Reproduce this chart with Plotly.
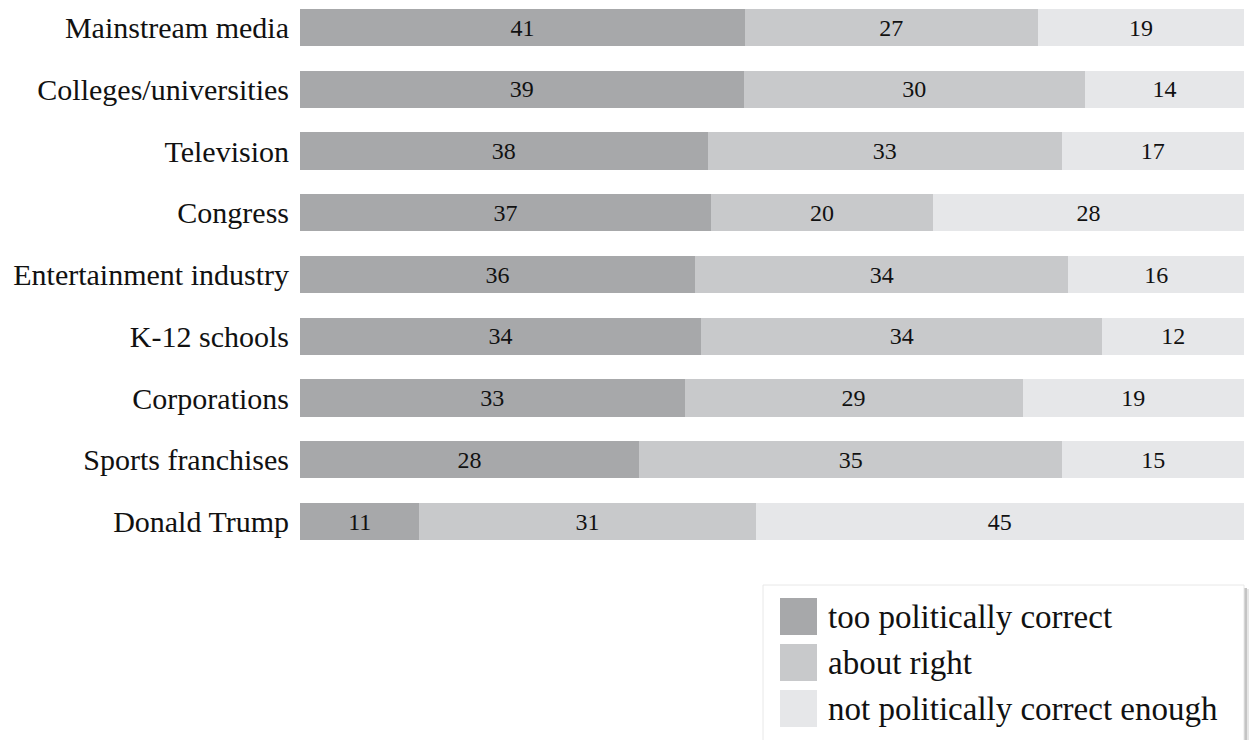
import plotly.graph_objects as go

# Survey results: share saying each institution is ...
categories = [
    "Mainstream media",
    "Colleges/universities",
    "Television",
    "Congress",
    "Entertainment industry",
    "K-12 schools",
    "Corporations",
    "Sports franchises",
    "Donald Trump",
]
too_pc = [41, 39, 38, 37, 36, 34, 33, 28, 11]
about_right = [27, 30, 33, 20, 34, 34, 29, 35, 31]
not_enough = [19, 14, 17, 28, 16, 12, 19, 15, 45]

series_names = ["too politically correct", "about right", "not politically correct enough"]
series_values = [too_pc, about_right, not_enough]
series_colors = ["#a7a8aa", "#c8c9cb", "#e6e7e9"]

FONT = "Liberation Serif, DejaVu Serif, serif"
W, H = 1249, 740
L, R = 300, 5
ROW = 61.75          # pixel spacing between rows
FIRST = 27.5         # pixel centre of the first row

rows = list(range(len(categories)))

fig = go.Figure()
for name, vals, color in zip(series_names, series_values, series_colors):
    fig.add_trace(go.Bar(
        y=rows, x=vals, orientation="h", name=name,
        marker=dict(color=color, line=dict(width=0)),
        width=0.6,
        text=[str(v) for v in vals],
        textposition="inside", insidetextanchor="middle", textangle=0,
        textfont=dict(family=FONT, size=24, color="#111111"),
        hoverinfo="name+text", showlegend=False,
    ))

y_top = -FIRST / ROW
y_bot = y_top + H / ROW

fig.update_layout(
    width=W, height=H,
    margin=dict(l=L, r=R, t=0, b=0),
    paper_bgcolor="white", plot_bgcolor="white",
    barmode="stack", barnorm="percent",
    font=dict(family=FONT, color="#111111"),
    xaxis=dict(range=[0, 100], visible=False, fixedrange=True),
    yaxis=dict(
        range=[y_bot, y_top], tickvals=rows, ticktext=categories,
        showgrid=False, zeroline=False, showline=False, ticks="",
        ticklabelstandoff=10, tickfont=dict(family=FONT, size=30, color="#111111"),
        fixedrange=True,
    ),
)

# helpers converting pixel positions to paper coordinates
pw = W - L - R
def px(x):
    return (x - L) / pw
def py(y):
    return 1 - y / H

# legend panel with a soft drop shadow
box = (763, 585, 1244, 745)
shapes = [
    dict(type="rect", xref="paper", yref="paper",
         x0=px(box[2]), x1=px(box[2] + 3), y0=py(box[1] + 3), y1=py(box[3]),
         fillcolor="#c4c4c4", line=dict(width=0), layer="above"),
    dict(type="rect", xref="paper", yref="paper",
         x0=px(box[2] + 3), x1=px(box[2] + 5), y0=py(box[1] + 4), y1=py(box[3]),
         fillcolor="#e6e6e6", line=dict(width=0), layer="above"),
    dict(type="rect", xref="paper", yref="paper",
         x0=px(box[0]), x1=px(box[2]), y0=py(box[1]), y1=py(box[3]),
         fillcolor="white", line=dict(color="#e8e8e8", width=1), layer="above"),
]
annotations = []
sw_x0, sw_size, sw_y0, sw_step = 780, 37, 598, 46
for i, (name, color) in enumerate(zip(series_names, series_colors)):
    top = sw_y0 + i * sw_step
    shapes.append(dict(type="rect", xref="paper", yref="paper",
                       x0=px(sw_x0), x1=px(sw_x0 + sw_size),
                       y0=py(top + sw_size), y1=py(top),
                       fillcolor=color, line=dict(width=0), layer="above"))
    annotations.append(dict(xref="paper", yref="paper",
                            x=px(sw_x0 + sw_size + 9), y=py(top + sw_size / 2),
                            xanchor="left", yanchor="middle", showarrow=False,
                            text=name, font=dict(family=FONT, size=33, color="#111111")))

fig.update_layout(shapes=shapes, annotations=annotations)

fig.write_html("out.html")
